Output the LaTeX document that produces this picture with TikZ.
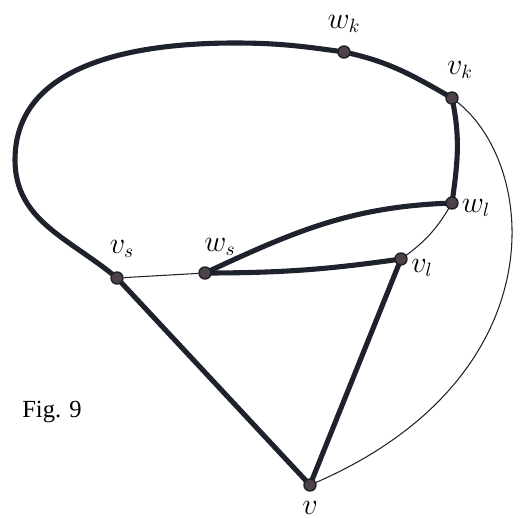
\documentclass[tikz,border=0pt]{standalone}
\usepackage{fontspec}
\setmainfont{Liberation Serif}
\usetikzlibrary{backgrounds}
\definecolor{edgecol}{RGB}{30,34,44}
\definecolor{dotcol}{RGB}{78,66,72}
\tikzset{
  vdot/.style={circle,fill=dotcol,draw=edgecol,line width=0.8pt,inner sep=0pt,minimum size=0.24cm},
  heavy/.style={draw=edgecol,line width=2.9pt,line cap=round},
  light/.style={draw=edgecol,line width=0.6pt},
  vlabel/.style={font=\fontsize{16}{19}\selectfont}
}
\begin{document}
\begin{tikzpicture}[x=0.02cm,y=-0.02cm]
    \useasboundingbox (0,0) rectangle (525,518);
    % Vertices
    \node[vdot] (wk) at (344,52)  {};
    \node[vdot] (vk) at (452,98)  {};
    \node[vdot] (wl) at (452,203) {};
    \node[vdot] (vl) at (401,259) {};
    \node[vdot] (ws) at (205,273) {};
    \node[vdot] (vs) at (117,278) {};
    \node[vdot] (v)  at (310,485) {};
    % Labels
    \node[vlabel] (lwk) at (344,24)  {$w_k$};
    \node[vlabel] (lvk) at (460,70)  {$v_k$};
    \node[vlabel] (lwl) at (476,208) {$w_l$};
    \node[vlabel] (lvl) at (422,268) {$v_l$};
    \node[vlabel] (lws) at (220,247) {$w_s$};
    \node[vlabel] (lvs) at (122,249) {$v_s$};
    \node[vlabel] (lv)  at (310,508) {$v$};
    \node[font=\fontsize{14}{17}\selectfont] (fig) at (52,412) {Fig. 9};
    \begin{scope}[on background layer]
    % Heavy edges
    \draw[heavy] (vs.center) to[out=140,in=270] (15,160) to[out=90,in=180] (235,43)
        to[out=0,in=172] (wk.center) to[out=-12,in=150] (vk.center)
        to[out=-78,in=82] (wl.center);
    \draw[heavy] (wl.center) to[out=182,in=25] (ws.center);
    \draw[heavy] (ws.center) to[bend right=4] (vl.center);
    \draw[heavy] (vs.center) -- (v.center);
    \draw[heavy] (vl.center) -- (v.center);
    % Light edges
    \draw[light] (vs) -- (ws);
    \draw[light] (vl.center) to[out=35,in=240] (wl.center);
    \draw[light] (vk.center) .. controls (540,160) and (560,380) .. (v.center);
    \end{scope}
\end{tikzpicture}
\end{document}
